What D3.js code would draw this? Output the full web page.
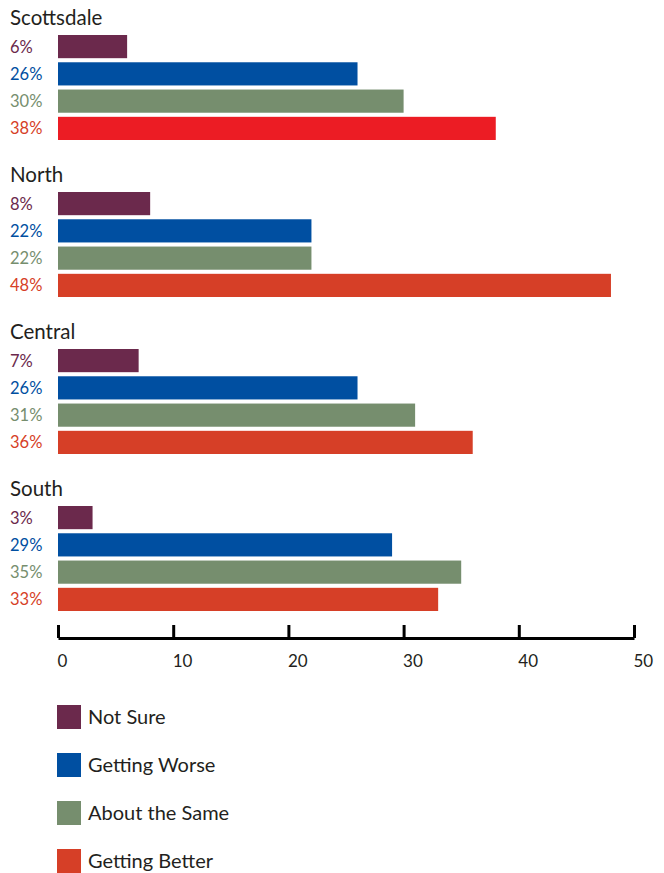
<!DOCTYPE html>
<html>
<head>
<meta charset="utf-8">
<script src="https://cdn.jsdelivr.net/npm/d3@7"></script>
<style>
  body { margin: 0; background: #fff; }
  text { font-family: Lato, "Open Sans", sans-serif; }
</style>
</head>
<body>
<div id="chart"></div>
<script>
var svgWidth = 664;
var svgHeight = 873;

// data
var regions = ["Scottsdale", "North", "Central", "South"];
var categories = ["Not Sure", "Getting Worse", "About the Same", "Getting Better"];
var notSure = [6, 8, 7, 3];
var gettingWorse = [26, 22, 26, 29];
var aboutSame = [30, 22, 31, 35];
var gettingBetter = [38, 48, 36, 33];
var xTicks = [0, 10, 20, 30, 40, 50];

var colors = ["#6b294c", "#004fa1", "#768e6e", "#d63f27"];

var series = [notSure, gettingWorse, aboutSame, gettingBetter];

var svg = d3.select("#chart")
  .append("svg")
  .attr("width", svgWidth)
  .attr("height", svgHeight);

var x = d3.scaleLinear()
  .domain([0, 50])
  .range([58, 634]);

// group blocks
var groupY = d3.scalePoint()
  .domain(regions)
  .range([35, 506]);

var barY = d3.scaleBand()
  .domain(categories)
  .range([0, 105])
  .paddingInner(0.15)
  .paddingOuter(0);

regions.forEach(function(region, gi) {
  var g = svg.append("g")
    .attr("transform", `translate(0, ${groupY(region)})`);

  g.append("text")
    .attr("x", 10)
    .attr("y", -10)
    .text(region)
    .style("font-size", "20.5px")
    .style("fill", "#231f20");

  var rows = categories.map(function(c, ci) {
    return { cat: c, value: series[ci][gi], color: colors[ci] };
  });
  // Scottsdale's "getting better" bar is a brighter red in the original
  if (region === "Scottsdale") rows[3].barColor = "#ec1c24";

  g.selectAll("rect")
    .data(rows)
    .enter()
    .append("rect")
    .attr("x", x(0))
    .attr("y", d => barY(d.cat))
    .attr("width", d => x(d.value) - x(0))
    .attr("height", barY.bandwidth())
    .attr("fill", d => d.barColor || d.color);

  g.selectAll("text.pct")
    .data(rows)
    .enter()
    .append("text")
    .attr("class", "pct")
    .attr("x", 10)
    .attr("y", d => barY(d.cat) + barY.bandwidth() / 2)
    .attr("dy", "0.36em")
    .text(d => d.value + "%")
    .style("font-size", "16.5px")
    .style("fill", d => d.color);
});

// x axis
var axis = svg.append("g")
  .attr("transform", "translate(0, 638)")
  .call(d3.axisBottom(x)
    .tickValues(xTicks)
    .tickSizeInner(-13)
    .tickSizeOuter(0)
    .tickPadding(17));

axis.select(".domain")
  .attr("stroke", "#000")
  .attr("stroke-width", 3);
axis.selectAll(".tick line")
  .attr("stroke", "#000")
  .attr("stroke-width", 3);
axis.selectAll(".tick text")
  .attr("text-anchor", "start")
  .attr("x", -1)
  .style("font-size", "17px")
  .style("font-family", "Lato, 'Open Sans', sans-serif")
  .style("fill", "#231f20");

// legend
var legendY = d3.scalePoint()
  .domain(categories)
  .range([705, 849]);

var legend = svg.selectAll("g.legend")
  .data(categories)
  .enter()
  .append("g")
  .attr("class", "legend")
  .attr("transform", d => `translate(57, ${legendY(d)})`);

legend.append("rect")
  .attr("width", 24)
  .attr("height", 24)
  .attr("fill", (d, i) => colors[i]);

legend.append("text")
  .attr("x", 31)
  .attr("y", 12)
  .attr("dy", "0.36em")
  .text(d => d)
  .style("font-size", "20px")
  .style("fill", "#231f20");
</script>
</body>
</html>
